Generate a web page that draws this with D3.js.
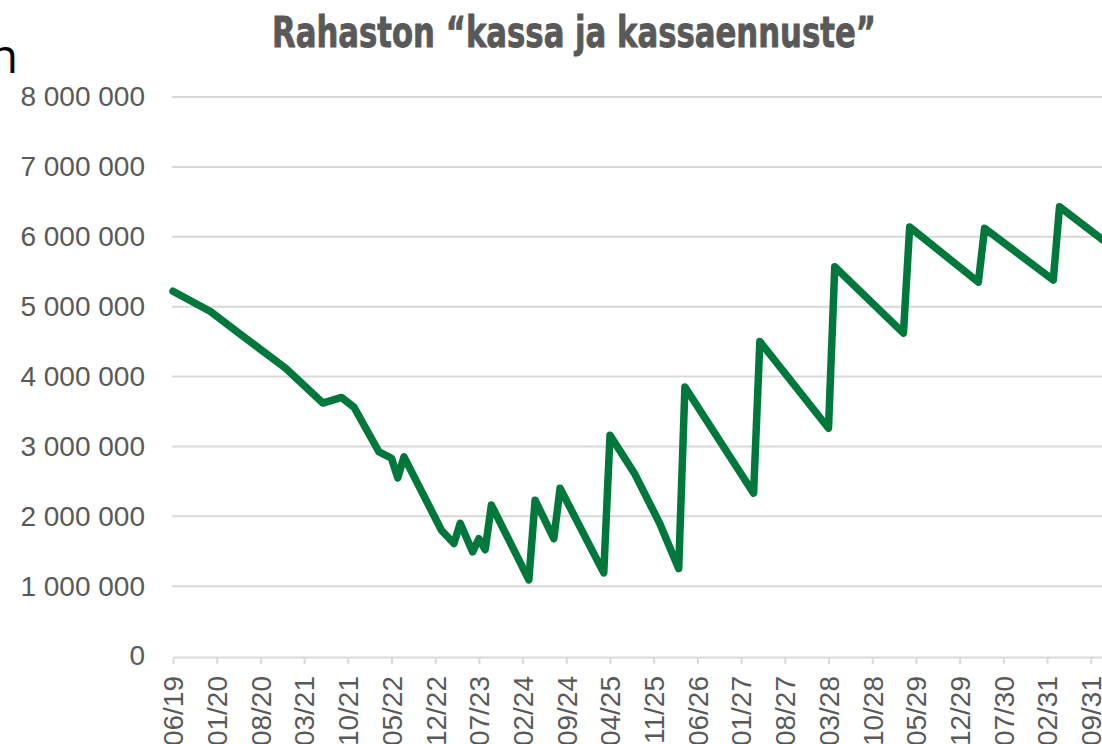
<!DOCTYPE html>
<html>
<head>
<meta charset="utf-8">
<script src="https://cdn.jsdelivr.net/npm/d3@7"></script>
<style>
  html, body { margin: 0; padding: 0; background: #fff; overflow: hidden; }
  svg { display: block; }
</style>
</head>
<body>
<svg id="chart" width="1102" height="744"></svg>
<script>
// Rahaston "kassa ja kassaennuste" - monthly cash forecast, line chart

const titleText = 'Rahaston \u201ckassa ja kassaennuste\u201d';

// tick labels on the x axis (every 7th month)
const tickLabels = ['06/19', '01/20', '08/20', '03/21', '10/21', '05/22', '12/22', '07/23',
    '02/24', '09/24', '04/25', '11/25', '06/26', '01/27', '08/27', '03/28', '10/28',
    '05/29', '12/29', '07/30', '02/31', '09/31'];

// y axis ticks
const yTicks = [0, 1000000, 2000000, 3000000, 4000000, 5000000, 6000000, 7000000, 8000000];

// line vertices (month, value)
const pointMonths = ['06/19', '12/19', '05/20', '12/20', '06/21', '09/21', '11/21', '03/22',
    '05/22', '06/22', '07/22', '01/23', '03/23', '04/23', '06/23', '07/23', '08/23', '09/23',
    '03/24', '04/24', '07/24', '08/24', '03/25', '04/25', '08/25', '12/25', '03/26', '04/26',
    '03/27', '04/27', '03/28', '04/28', '03/29', '04/29', '03/30', '04/30', '03/31', '04/31', '11/31'];
const pointValues = [5220000, 4930000, 4590000, 4120000, 3620000, 3700000, 3560000, 2920000,
    2830000, 2550000, 2850000, 1800000, 1610000, 1900000, 1490000, 1680000, 1520000, 2160000,
    1090000, 2230000, 1680000, 2400000, 1190000, 3160000, 2600000, 1890000, 1250000, 3850000,
    2330000, 4500000, 3260000, 5570000, 4620000, 6140000, 5350000, 6120000, 5380000, 6430000, 5950000];

const grey = '#595959';
const gridColor = '#d9d9d9';
const lineColor = '#00783c';

const svg = d3.select('#chart');

// all months on the category axis (06/19 .. 12/31)
const months = d3.utcMonth.range(new Date(Date.UTC(2019, 5, 1)), new Date(Date.UTC(2032, 0, 1)))
    .map(d3.utcFormat('%m/%y'));

const x0 = 173, step = 6.243;
const x = d3.scalePoint().domain(months).range([x0, x0 + step * (months.length - 1)]);
const y = d3.scaleLinear().domain([0, 8000000]).range([656, 97]);

const fi = d3.formatLocale({ decimal: ',', thousands: '\u00a0', grouping: [3], currency: ['', ' €'] });
const fmt = fi.format(',');

// title
svg.append('text')
    .attr('x', 574)
    .attr('y', 47)
    .attr('text-anchor', 'middle')
    .attr('textLength', 604)
    .attr('lengthAdjust', 'spacingAndGlyphs')
    .style('font-family', '"DejaVu Sans Condensed", "DejaVu Sans", sans-serif')
    .style('font-weight', 'bold')
    .style('font-size', '42px')
    .style('fill', grey)
    .style('stroke', grey)
    .style('stroke-width', 0.8)
    .text(titleText);

// stray cropped letter at top-left
svg.append('text')
    .attr('x', 18)
    .attr('y', 73)
    .attr('text-anchor', 'end')
    .style('font-family', '"Open Sans", sans-serif')
    .style('font-size', '47px')
    .style('fill', '#000')
    .text('n');

// gridlines
svg.append('g')
    .selectAll('line')
    .data(yTicks.slice(1))
    .join('line')
    .attr('x1', x0 - 1)
    .attr('x2', 1102)
    .attr('y1', d => y(d))
    .attr('y2', d => y(d))
    .attr('stroke', gridColor)
    .attr('stroke-width', 2);

// y axis labels
const yAxis = svg.append('g')
    .attr('transform', 'translate(145,0)')
    .call(d3.axisLeft(y).tickValues(yTicks).tickFormat(fmt).tickSize(0).tickPadding(0));
yAxis.select('.domain').remove();
yAxis.selectAll('text')
    .style('font-family', '"Liberation Sans", Arial, sans-serif')
    .style('font-size', '28px')
    .style('fill', grey);

// x axis
const xAxis = svg.append('g')
    .attr('transform', `translate(0,${y(0) + 1})`)
    .call(d3.axisBottom(x).tickValues(tickLabels).tickSize(7).tickSizeOuter(0).tickPadding(12));
xAxis.select('.domain').attr('stroke', gridColor).attr('stroke-width', 2);
xAxis.selectAll('.tick line').attr('stroke', gridColor).attr('stroke-width', 2);
xAxis.selectAll('text')
    .attr('transform', 'rotate(-90)')
    .attr('x', -19)
    .attr('y', 0)
    .attr('dy', '0.35em')
    .attr('text-anchor', 'end')
    .style('font-family', '"Liberation Sans", Arial, sans-serif')
    .style('font-size', '28px')
    .style('fill', grey);

// the line
const pts = pointMonths.map((m, i) => ({ m, v: pointValues[i] }));
svg.append('path')
    .datum(pts)
    .attr('fill', 'none')
    .attr('stroke', lineColor)
    .attr('stroke-width', 7.5)
    .attr('stroke-linejoin', 'round')
    .attr('stroke-linecap', 'round')
    .attr('d', d3.line().x(d => x(d.m)).y(d => y(d.v)));
</script>
</body>
</html>
